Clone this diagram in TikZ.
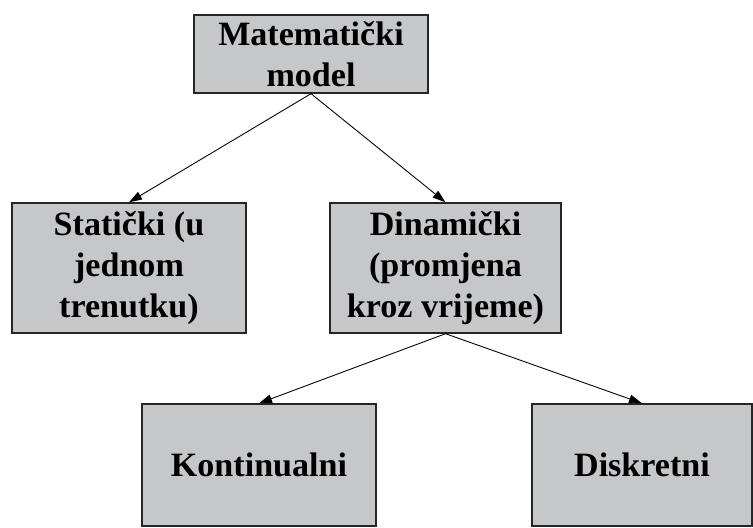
\documentclass[tikz,border=0pt]{standalone}
\usepackage{fontspec}
\setmainfont{Liberation Serif}
\usetikzlibrary{arrows.meta}

\definecolor{sivo}{RGB}{198,199,201}

\tikzset{Blok/.style={draw=black!85,fill=sivo,line width=0.8pt,rectangle,inner sep=0pt,align=center,font=\fontsize{19.4}{23.4}\selectfont\bfseries}}
\tikzset{Veza/.style={draw=black,line width=0.5pt,-{Triangle[length=0.26cm,width=0.17cm]}}}

\begin{document}
\begin{tikzpicture}[x=0.02cm,y=-0.02cm]
\useasboundingbox (0,0) rectangle (753,527);

\node[Blok,minimum width=234*0.02cm,minimum height=78*0.02cm] (M) at (311,54) {Matematički\\model};

\node[Blok,minimum width=234*0.02cm,minimum height=130*0.02cm] (S) at (129,268) {Statički (u\\jednom\\trenutku)};
\node[Blok,minimum width=231*0.02cm,minimum height=130*0.02cm] (D) at (445.5,268) {Dinamički\\(promjena\\kroz vrijeme)};

\node[Blok,minimum width=234*0.02cm,minimum height=122*0.02cm] (K) at (259,465) {Kontinualni};
\node[Blok,minimum width=220*0.02cm,minimum height=122*0.02cm] (R) at (642,465) {Diskretni};

\draw[Veza] (M.south) -- (S.north);
\draw[Veza] (M.south) -- (D.north);
\draw[Veza] (D.south) -- (K.north);
\draw[Veza] (D.south) -- (R.north);

\end{tikzpicture}
\end{document}
